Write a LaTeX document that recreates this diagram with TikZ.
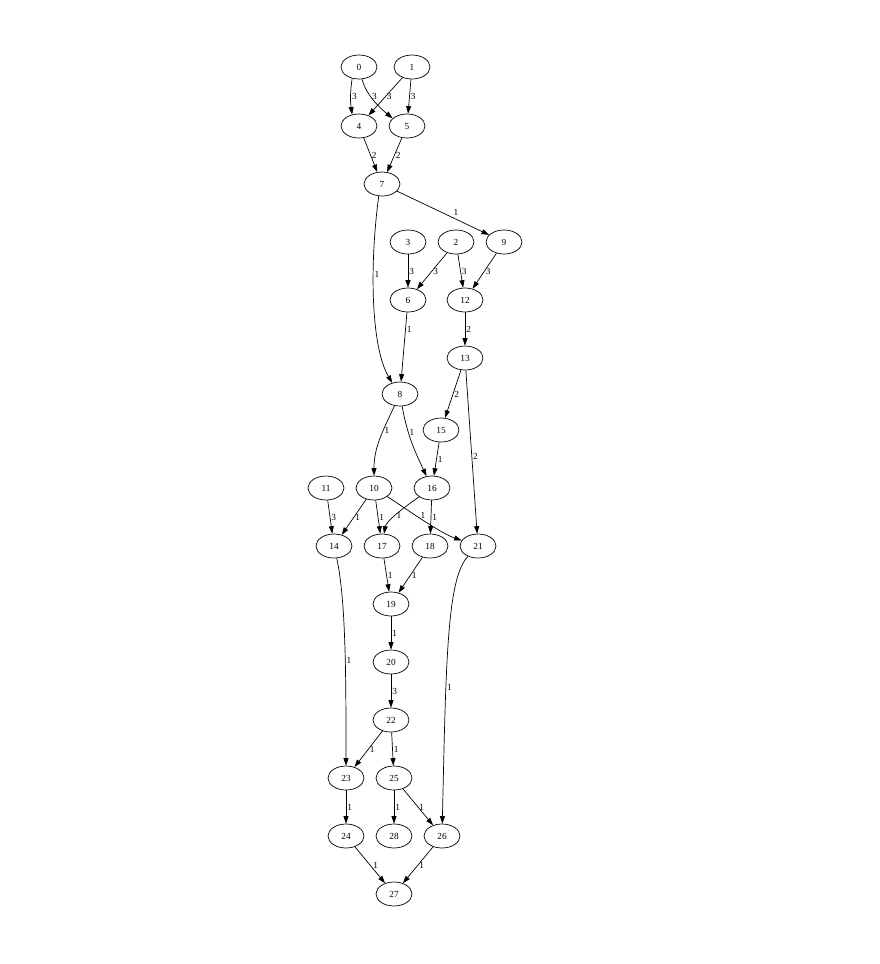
\documentclass[tikz,border=0pt]{standalone}
\usepackage{fontspec}
\setmainfont{Liberation Serif}
\usepackage{tikz}
\usetikzlibrary{shapes.geometric,arrows.meta}

\begin{document}
\begin{tikzpicture}[x=1pt, y=1pt,
  vert/.style = {shape=ellipse, draw, line width=.7pt, minimum width=36pt, minimum height=24pt, inner sep=0pt, font=\fontsize{9.3}{11}\selectfont},
  wt/.style = {right=0pt, inner sep=1pt, font=\fontsize{9.3}{11}\selectfont},
  arr/.style = {line width=.7pt, -{Triangle[length=7.5pt,width=5pt]}}]
  \useasboundingbox (0,0) rectangle (880,-964);
  % vertices
  \node[vert] (v0) at (359,-67) {0};
  \node[vert] (v1) at (412,-67) {1};
  \node[vert] (v4) at (359,-126) {4};
  \node[vert] (v5) at (407,-126) {5};
  \node[vert] (v7) at (382,-184) {7};
  \node[vert] (v3) at (408,-242) {3};
  \node[vert] (v2) at (456,-242) {2};
  \node[vert] (v9) at (504,-242) {9};
  \node[vert] (v6) at (408,-300) {6};
  \node[vert] (v12) at (465,-300) {12};
  \node[vert] (v13) at (465,-358) {13};
  \node[vert] (v8) at (400,-394) {8};
  \node[vert] (v15) at (441,-430) {15};
  \node[vert] (v11) at (326,-488) {11};
  \node[vert] (v10) at (374,-488) {10};
  \node[vert] (v16) at (432,-488) {16};
  \node[vert] (v14) at (334,-546) {14};
  \node[vert] (v17) at (382,-546) {17};
  \node[vert] (v18) at (430,-546) {18};
  \node[vert] (v21) at (478,-546) {21};
  \node[vert] (v19) at (391,-604) {19};
  \node[vert] (v20) at (391,-662) {20};
  \node[vert] (v22) at (391,-720) {22};
  \node[vert] (v23) at (346,-778) {23};
  \node[vert] (v25) at (394,-778) {25};
  \node[vert] (v24) at (346,-836) {24};
  \node[vert] (v28) at (394,-836) {28};
  \node[vert] (v26) at (442,-836) {26};
  \node[vert] (v27) at (394,-894) {27};
  % weighted edges
  \draw[arr] (v0.239) to[bend right=8] node[wt]{3} (v4.121);
  \draw[arr] (v0.284) .. controls (366,-95) and (380,-108) .. node[wt,pos=.4]{3} (v5.152);
  \draw[arr] (v1) -- node[wt]{3} (v4);
  \draw[arr] (v1) -- node[wt]{3} (v5);
  \draw[arr] (v4) -- node[wt]{2} (v7);
  \draw[arr] (v5) -- node[wt]{2} (v7);
  \draw[arr] (v7) -- node[wt,pos=.64,above=2pt]{1} (v9);
  \draw[arr] (v7.255) .. controls (370,-260) and (370,-345) .. node[wt,pos=.38]{1} (v8.125);
  \draw[arr] (v3) -- node[wt]{3} (v6);
  \draw[arr] (v2) -- node[wt]{3} (v6);
  \draw[arr] (v2) -- node[wt]{3} (v12);
  \draw[arr] (v9) -- node[wt]{3} (v12);
  \draw[arr] (v6) -- node[wt,pos=.25]{1} (v8);
  \draw[arr] (v12) -- node[wt]{2} (v13);
  \draw[arr] (v13) -- node[wt]{2} (v15);
  \draw[arr] (v13) -- node[wt,pos=.53]{2} (v21);
  \draw[arr] (v8) to[out=-115,in=90] node[wt,pos=.35]{1} (v10);
  \draw[arr] (v8) to[out=-80,in=115] node[wt,pos=.35]{1} (v16);
  \draw[arr] (v15) -- node[wt]{1} (v16);
  \draw[arr] (v11) -- node[wt]{3} (v14);
  \draw[arr] (v10) -- node[wt]{1} (v14);
  \draw[arr] (v10) -- node[wt]{1} (v17);
  \draw[arr] (v16) .. controls (400,-510) and (386,-522) .. node[wt,pos=.5]{1} (v17);
  \draw[arr] (v10) .. controls (405,-508) and (440,-533) .. node[wt,pos=.5,above=0pt]{1} (v21);
  \draw[arr] (v16) -- node[wt]{1} (v18);
  \draw[arr] (v17) -- node[wt]{1} (v19);
  \draw[arr] (v18) -- node[wt]{1} (v19);
  \draw[arr] (v14) .. controls (346,-600) and (346,-680) .. node[wt,pos=.57]{1} (v23);
  \draw[arr] (v21) .. controls (447,-578) and (446,-660) .. node[wt,pos=.67]{1} (v26);
  \draw[arr] (v19) -- node[wt]{1} (v20);
  \draw[arr] (v20) -- node[wt]{3} (v22);
  \draw[arr] (v22) -- node[wt]{1} (v23);
  \draw[arr] (v22) -- node[wt]{1} (v25);
  \draw[arr] (v23) -- node[wt]{1} (v24);
  \draw[arr] (v25) -- node[wt]{1} (v28);
  \draw[arr] (v25) -- node[wt]{1} (v26);
  \draw[arr] (v24) -- node[wt,right=2pt]{1} (v27);
  \draw[arr] (v26) -- node[wt]{1} (v27);
\end{tikzpicture}
\end{document}
